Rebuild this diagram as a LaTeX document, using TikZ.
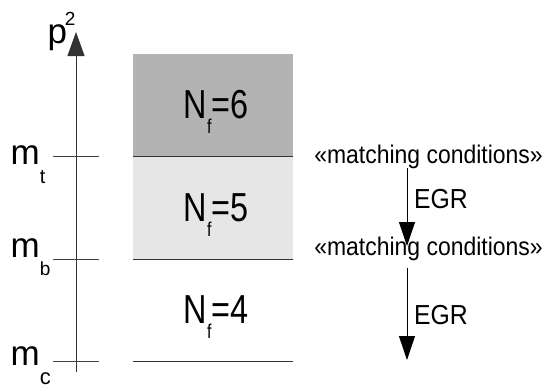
\documentclass[tikz,border=0pt]{standalone}
\usepackage{fontspec}
\setmainfont{Liberation Sans}
\newfontfamily\nfont[FakeStretch=0.8]{Liberation Sans}
\newfontfamily\mfont[FakeStretch=0.9]{Liberation Sans}
\usetikzlibrary{arrows.meta}
\newcommand\fsz[1]{\fontsize{#1}{#1}\selectfont}
\definecolor{darkbox}{HTML}{B3B3B3}
\definecolor{lightbox}{HTML}{E6E6E6}
\tikzset{
  lbl/.style={inner sep=0pt, outer sep=0pt, anchor=base west},
  nlbl/.style={inner sep=0pt, outer sep=0pt, anchor=base, font=\nfont\fsz{40.5}},
  mlbl/.style={inner sep=0pt, outer sep=0pt, anchor=base, font=\mfont\fsz{25.5}},
  elbl/.style={inner sep=0pt, outer sep=0pt, anchor=base west, font=\mfont\fsz{27.5}},
  axisline/.style={line width=1pt, draw=black!80, -{Triangle[length=24pt,width=17pt]}},
  tickline/.style={line width=0.9pt, draw=black!75},
  levelline/.style={line width=1pt, draw=black!80},
  flow/.style={line width=0.9pt, draw=black, -{Triangle[length=24pt,width=16pt]}},
  band/.style={draw=none, inner sep=0pt, outer sep=0pt, minimum width=160pt}
}
\begin{document}
\begin{tikzpicture}[x=1pt,y=-1pt]
\useasboundingbox (0,0) rectangle (542,388);
% bands
\node[band, fill=darkbox, minimum height=102pt] (b6) at (213,105) {};
\node[band, fill=lightbox, minimum height=103pt] (b5) at (213,207.5) {};
\node[band, minimum height=102pt] (b4) at (213,310) {};
\draw[levelline] (b6.south west) -- (b6.south east);
\draw[levelline] (b5.south west) -- (b5.south east);
\draw[levelline] (b4.south west) -- (b4.south east);
\node[nlbl] (n6) at (216,118) {N\raisebox{-15pt}{\fsz{20}f}=6};
\node[nlbl] (n5) at (216,221) {N\raisebox{-15pt}{\fsz{20}f}=5};
\node[nlbl] (n4) at (216,323) {N\raisebox{-15pt}{\fsz{20}f}=4};
% axis
\coordinate (ax0) at (76,372);
\coordinate (ax1) at (76,32);
\draw[axisline] (ax0) -- (ax1);
\coordinate (tt0) at (53,156); \coordinate (tt1) at (99,156);
\coordinate (tb0) at (53,259); \coordinate (tb1) at (99,259);
\coordinate (tc0) at (53,361); \coordinate (tc1) at (99,361);
\draw[tickline] (tt0) -- (tt1);
\draw[tickline] (tb0) -- (tb1);
\draw[tickline] (tc0) -- (tc1);
\node[lbl, font=\fsz{35}] (p2) at (47.5,43) {p\kern-2pt\raisebox{18pt}{\fsz{19}2}};
\node[lbl, font=\fsz{35}] (mt) at (10.7,164) {m\raisebox{-19pt}{\fsz{20}t}};
\node[lbl, font=\fsz{35}] (mb) at (10.7,257) {m\raisebox{-18pt}{\fsz{19}b}};
\node[lbl, font=\fsz{35}] (mc) at (10.7,365) {m\raisebox{-19pt}{\fsz{22}c}};
% right side
\node[mlbl] (mc1) at (428.5,163) {«matching conditions»};
\node[mlbl] (mc2) at (428.5,255) {«matching conditions»};
\coordinate (f1s) at (407,168); \coordinate (f1e) at (407,246);
\coordinate (f2s) at (407,268); \coordinate (f2e) at (407,360);
\draw[flow] (f1s) -- (f1e);
\draw[flow] (f2s) -- (f2e);
\node[elbl] (e1) at (414,208) {EGR};
\node[elbl] (e2) at (414,324) {EGR};
\end{tikzpicture}
\end{document}
